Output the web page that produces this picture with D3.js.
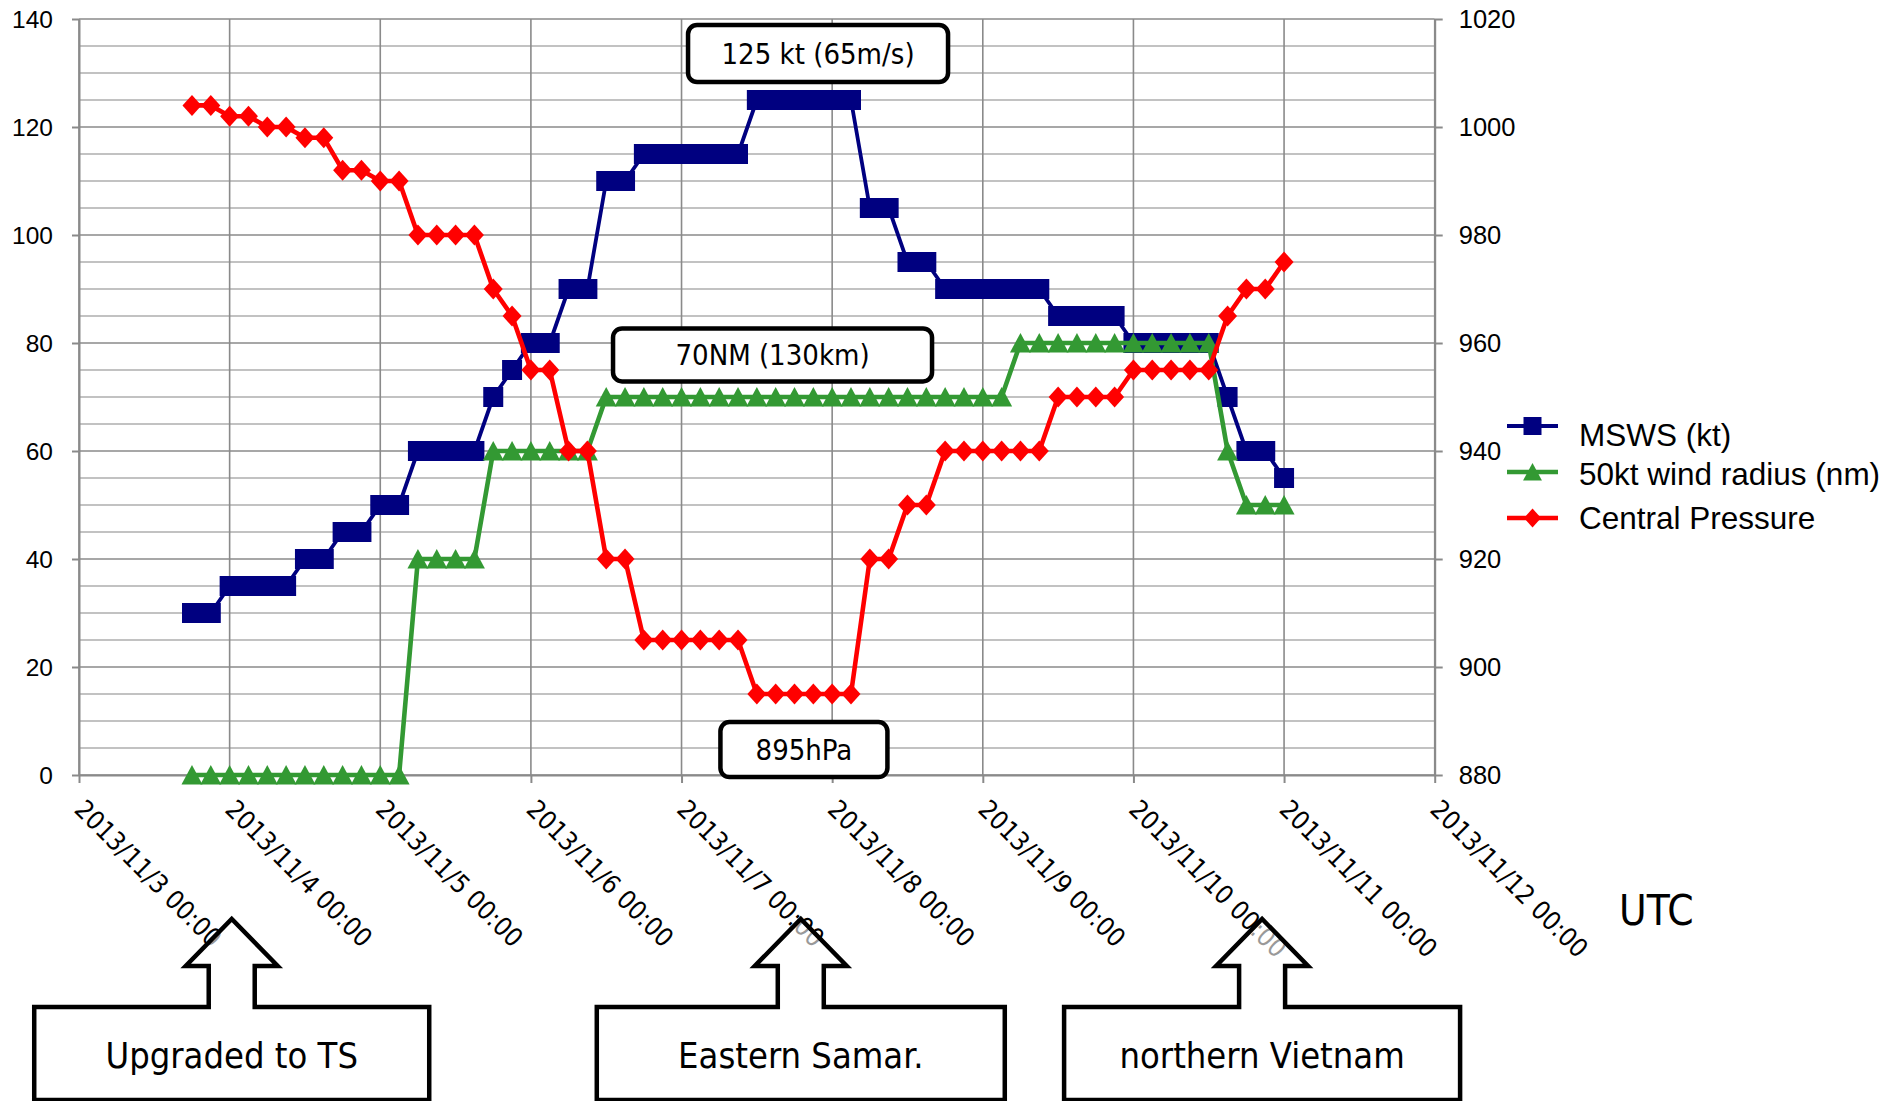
<!DOCTYPE html>
<html>
<head>
<meta charset="utf-8">
<script src="https://cdn.jsdelivr.net/npm/d3@7"></script>
<style>
  html, body { margin: 0; padding: 0; background: #fff; }
  svg { display: block; }
  .cond { font-family: "DejaVu Sans Condensed", "DejaVu Sans", sans-serif; font-stretch: condensed; }
  .sans { font-family: "Liberation Sans", Arial, sans-serif; }
</style>
</head>
<body>
<svg id="chart" width="1903" height="1101"></svg>
<script>
// Typhoon Haiyan (2013), 3-hourly best-track values (UTC)
const times = [
  "2013-11-03 18:00", "2013-11-03 21:00",
  "2013-11-04 00:00", "2013-11-04 03:00", "2013-11-04 06:00", "2013-11-04 09:00",
  "2013-11-04 12:00", "2013-11-04 15:00", "2013-11-04 18:00", "2013-11-04 21:00",
  "2013-11-05 00:00", "2013-11-05 03:00", "2013-11-05 06:00", "2013-11-05 09:00",
  "2013-11-05 12:00", "2013-11-05 15:00", "2013-11-05 18:00", "2013-11-05 21:00",
  "2013-11-06 00:00", "2013-11-06 03:00", "2013-11-06 06:00", "2013-11-06 09:00",
  "2013-11-06 12:00", "2013-11-06 15:00", "2013-11-06 18:00", "2013-11-06 21:00",
  "2013-11-07 00:00", "2013-11-07 03:00", "2013-11-07 06:00", "2013-11-07 09:00",
  "2013-11-07 12:00", "2013-11-07 15:00", "2013-11-07 18:00", "2013-11-07 21:00",
  "2013-11-08 00:00", "2013-11-08 03:00", "2013-11-08 06:00", "2013-11-08 09:00",
  "2013-11-08 12:00", "2013-11-08 15:00", "2013-11-08 18:00", "2013-11-08 21:00",
  "2013-11-09 00:00", "2013-11-09 03:00", "2013-11-09 06:00", "2013-11-09 09:00",
  "2013-11-09 12:00", "2013-11-09 15:00", "2013-11-09 18:00", "2013-11-09 21:00",
  "2013-11-10 00:00", "2013-11-10 03:00", "2013-11-10 06:00", "2013-11-10 09:00",
  "2013-11-10 12:00", "2013-11-10 15:00", "2013-11-10 18:00", "2013-11-10 21:00",
  "2013-11-11 00:00"
];

// Maximum sustained wind speed (kt)
const mswsKt = [
  30, 30,
  35, 35, 35, 35, 40, 40, 45, 45,
  50, 50, 60, 60, 60, 60, 70, 75,
  80, 80, 90, 90, 110, 110, 115, 115,
  115, 115, 115, 115, 125, 125, 125, 125,
  125, 125, 105, 105, 95, 95, 90, 90,
  90, 90, 90, 90, 85, 85, 85, 85,
  80, 80, 80, 80, 80, 70, 60, 60,
  55
];

// 50 kt wind radius (nm)
const windRadiusNm = [
  0, 0,
  0, 0, 0, 0, 0, 0, 0, 0,
  0, 0, 40, 40, 40, 40, 60, 60,
  60, 60, 60, 60, 70, 70, 70, 70,
  70, 70, 70, 70, 70, 70, 70, 70,
  70, 70, 70, 70, 70, 70, 70, 70,
  70, 70, 80, 80, 80, 80, 80, 80,
  80, 80, 80, 80, 80, 60, 50, 50,
  50
];

// Central pressure (hPa)
const pressureHPa = [
  1004, 1004,
  1002, 1002, 1000, 1000, 998, 998, 992, 992,
  990, 990, 980, 980, 980, 980, 970, 965,
  955, 955, 940, 940, 920, 920, 905, 905,
  905, 905, 905, 905, 895, 895, 895, 895,
  895, 895, 920, 920, 930, 930, 940, 940,
  940, 940, 940, 940, 950, 950, 950, 950,
  955, 955, 955, 955, 955, 965, 970, 970,
  975
];

const dayTicks = [
  "2013-11-03 00:00", "2013-11-04 00:00", "2013-11-05 00:00", "2013-11-06 00:00",
  "2013-11-07 00:00", "2013-11-08 00:00", "2013-11-09 00:00", "2013-11-10 00:00",
  "2013-11-11 00:00", "2013-11-12 00:00"
];
const dayTickLabels = [
  "2013/11/3 00:00", "2013/11/4 00:00", "2013/11/5 00:00", "2013/11/6 00:00",
  "2013/11/7 00:00", "2013/11/8 00:00", "2013/11/9 00:00", "2013/11/10 00:00",
  "2013/11/11 00:00", "2013/11/12 00:00"
];
const leftTicks = [0, 20, 40, 60, 80, 100, 120, 140];
const rightTicks = [880, 900, 920, 940, 960, 980, 1000, 1020];
const seriesNames = ["MSWS (kt)", "50kt wind radius (nm)", "Central Pressure"];

// Event callouts below the time axis
const eventLabels = ["Upgraded to TS", "Eastern Samar.", "northern Vietnam"];
const eventTimes = ["2013-11-04 00:20", "2013-11-07 19:00", "2013-11-10 20:30"];

// Value notes inside the plot
const noteLabels = ["125 kt (65m/s)", "70NM (130km)", "895hPa"];

const parse = d3.utcParse("%Y-%m-%d %H:%M");
const T = times.map(parse);

const svg = d3.select("#chart");
svg.append("rect").attr("width", 1903).attr("height", 1101).attr("fill", "#fff");

const plotLeft = 79, plotRight = 1434.7, plotTop = 19, plotBottom = 775;

const x = d3.scaleUtc()
  .domain([parse(dayTicks[0]), parse(dayTicks[dayTicks.length - 1])])
  .range([plotLeft, plotRight]);
const yL = d3.scaleLinear().domain([0, 140]).range([plotBottom, plotTop]);
const yR = d3.scaleLinear().domain([880, 1020]).range([plotBottom, plotTop]);

const majorGrid = "#8a8a8a", minorGrid = "#c2c2c2";

// Horizontal gridlines every 5 units, darker at the labelled values
const grid = svg.append("g");
grid.selectAll("line.h")
  .data(yL.ticks(28).filter(v => v % 20 !== 0))
  .join("line")
  .attr("x1", plotLeft).attr("x2", plotRight)
  .attr("y1", d => yL(d)).attr("y2", d => yL(d))
  .attr("stroke", minorGrid).attr("stroke-width", 2);
grid.selectAll("line.v")
  .data(dayTicks.map(parse))
  .join("line")
  .attr("x1", d => x(d)).attr("x2", d => x(d))
  .attr("y1", plotTop).attr("y2", plotBottom)
  .attr("stroke", majorGrid).attr("stroke-width", 1.6);
grid.selectAll("line.hm")
  .data(leftTicks)
  .join("line")
  .attr("x1", plotLeft).attr("x2", plotRight)
  .attr("y1", d => yL(d)).attr("y2", d => yL(d))
  .attr("stroke", majorGrid).attr("stroke-width", 1.6);

// Axes
function styleAxis(g) {
  g.selectAll("path.domain").attr("stroke", majorGrid).attr("stroke-width", 2);
  g.selectAll(".tick line").attr("stroke", majorGrid).attr("stroke-width", 2);
  g.selectAll("text").attr("fill", "#000")
    .attr("font-family", "'Liberation Sans', Arial, sans-serif");
}
const gl = svg.append("g")
  .attr("transform", `translate(${plotLeft},0)`)
  .call(d3.axisLeft(yL).tickValues(leftTicks).tickFormat(d3.format("d"))
    .tickSize(7).tickSizeOuter(0).tickPadding(19))
  .call(styleAxis);
gl.selectAll("text").attr("font-size", 24.5).attr("dy", "0.34em");

const gr = svg.append("g")
  .attr("transform", `translate(${plotRight},0)`)
  .call(d3.axisRight(yR).tickValues(rightTicks).tickFormat(d3.format("d"))
    .tickSize(8).tickSizeOuter(0).tickPadding(16))
  .call(styleAxis);
gr.selectAll("text").attr("font-size", 25.5).attr("dy", "0.34em");

svg.append("g")
  .attr("transform", `translate(0,${plotBottom})`)
  .call(d3.axisBottom(x).tickValues(dayTicks.map(parse)).tickSize(8).tickSizeOuter(0).tickFormat(""))
  .call(styleAxis);

// Rotated date labels
svg.append("g").attr("class", "cond").attr("font-size", 26)
  .selectAll("text")
  .data(dayTicks)
  .join("text")
  .attr("transform", d => `translate(${x(parse(d)) - 6},${plotBottom + 36}) rotate(45)`)
  .text((d, i) => dayTickLabels[i]);

svg.append("text").attr("class", "cond")
  .attr("x", 1619).attr("y", 925).attr("font-size", 42).text("UTC");

// Marker shapes
const squarePath = "M-10,-10H10V10H-10Z";
const trianglePath = "M0,-10L10.5,9.5L-10.5,9.5Z";
const diamondPath = "M0,-10.5L9.5,0L0,10.5L-9.5,0Z";

const series = [
  { name: seriesNames[0], values: mswsKt, y: yL, color: "#000080", width: 3.8, marker: squarePath },
  { name: seriesNames[1], values: windRadiusNm, y: yL, color: "#339933", width: 4.6, marker: trianglePath },
  { name: seriesNames[2], values: pressureHPa, y: yR, color: "#ff0000", width: 4.6, marker: diamondPath }
];

series.forEach(s => {
  const line = d3.line().x((d, i) => x(T[i])).y(d => s.y(d));
  const g = svg.append("g");
  g.append("path").attr("d", line(s.values))
    .attr("fill", "none").attr("stroke", s.color)
    .attr("stroke-width", s.width).attr("stroke-linejoin", "round");
  g.selectAll("path.m").data(s.values).join("path")
    .attr("d", s.marker)
    .attr("transform", (d, i) => `translate(${x(T[i])},${s.y(d)})`)
    .attr("fill", s.color);
});

// Legend
const legend = svg.append("g").attr("class", "sans").attr("font-size", 31.5);
const legendRows = [426, 472, 518];
series.forEach((s, i) => {
  const yy = legendRows[i];
  legend.append("line").attr("x1", 1507).attr("x2", 1558).attr("y1", yy).attr("y2", yy)
    .attr("stroke", s.color).attr("stroke-width", s.width);
  legend.append("path").attr("d", s.marker)
    .attr("transform", `translate(1532.5,${yy}) scale(0.9)`).attr("fill", s.color);
  legend.append("text").attr("x", 1579).attr("y", yy + [20, 13, 11][i]).text(s.name);
});

// Boxed value notes
const notes = [
  { text: noteLabels[0], cx: x(parse("2013-11-07 21:45")), cy: yL(133.6), w: 260, h: 57 },
  { text: noteLabels[1], cx: x(parse("2013-11-07 14:30")), cy: yL(77.8), w: 319, h: 53 },
  { text: noteLabels[2], cx: x(parse("2013-11-07 19:30")), cy: yL(4.7), w: 167, h: 55 }
];
const ng = svg.append("g").attr("class", "cond").attr("font-size", 29);
notes.forEach(n => {
  ng.append("rect")
    .attr("x", n.cx - n.w / 2).attr("y", n.cy - n.h / 2)
    .attr("width", n.w).attr("height", n.h).attr("rx", 9)
    .attr("fill", "#fff").attr("stroke", "#000").attr("stroke-width", 4.5);
  ng.append("text").attr("x", n.cx).attr("y", n.cy + 10.5)
    .attr("text-anchor", "middle").text(n.text);
});

// Arrow callouts pointing at the time axis
const calloutHalfWidths = [197.5, 204, 198];
const cg = svg.append("g").attr("class", "cond").attr("font-size", 36);
eventTimes.forEach((t, i) => {
  const tx = x(parse(t));
  const tipY = 919, headY = 966, boxTop = 1007, boxBottom = 1100;
  const headHalf = 46, shaftHalf = 23, boxHalf = calloutHalfWidths[i];
  const p = d3.path();
  p.moveTo(tx - boxHalf, boxTop);
  p.lineTo(tx - shaftHalf, boxTop);
  p.lineTo(tx - shaftHalf, headY);
  p.lineTo(tx - headHalf, headY);
  p.lineTo(tx, tipY);
  p.lineTo(tx + headHalf, headY);
  p.lineTo(tx + shaftHalf, headY);
  p.lineTo(tx + shaftHalf, boxTop);
  p.lineTo(tx + boxHalf, boxTop);
  p.lineTo(tx + boxHalf, boxBottom);
  p.lineTo(tx - boxHalf, boxBottom);
  p.closePath();
  cg.append("path").attr("d", p.toString())
    .attr("fill", "#fff").attr("fill-opacity", 0.6)
    .attr("stroke", "#000").attr("stroke-width", 4.5).attr("stroke-linejoin", "miter");
  cg.append("text").attr("x", tx).attr("y", 1068)
    .attr("text-anchor", "middle").text(eventLabels[i]);
});
</script>
</body>
</html>
